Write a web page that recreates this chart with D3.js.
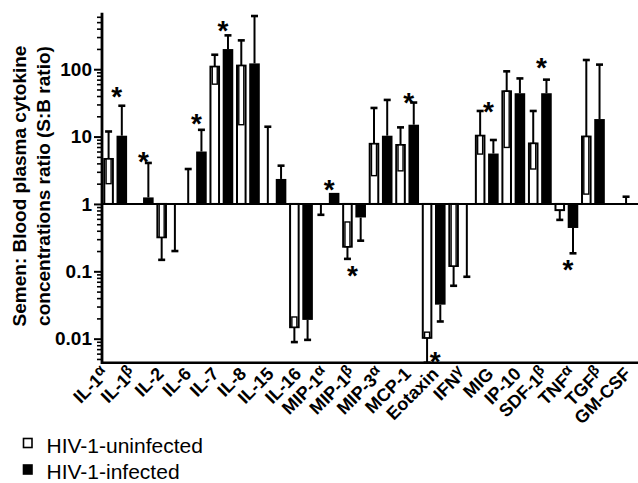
<!DOCTYPE html>
<html><head><meta charset="utf-8">
<script src="https://cdn.jsdelivr.net/npm/d3@7"></script>
<style>body{margin:0;background:#fff} svg{display:block}</style>
</head><body>
<svg id="chart" width="638" height="483"></svg>
<script>
// ---------- data ----------
const categories = ["IL-1α","IL-1β","IL-2","IL-6","IL-7","IL-8","IL-15","IL-16","MIP-1α","MIP-1β","MIP-3α","MCP-1","Eotaxin","IFNγ","MIG","IP-10","SDF-1β","TNFα","TGFβ","GM-CSF"];
const seriesNames = ["HIV-1-uninfected", "HIV-1-infected"];
// S:B ratio means (null = no bar)
const uninfectedMean  = [4.65, null, 0.32, 1, 109, 113, 1, 0.0148, 1, 0.232, 7.8, 7.5, 0.0103, 0.12, 10.3, 47, 7.9, 0.81, 10, null];
// error bar end pointing away from the baseline
const uninfectedErrOuter = [11.9, null, 0.148, 3.3, 164, 268, 14, 0.0089, 0.69, 0.153, 26.6, 13.7, 0.0044, 0.061, 24, 93, 24, 0.58, 137, null];
// error bar end drawn inside the (open) bar
const uninfectedErrInner = [2.0, null, 1, null, 60, 15, null, 0.021, null, 0.54, 2.63, 3.1, 0.0125, 1, 5.5, 6.9, 3.3, null, 1.4, null];
const infectedMean    = [10.3, 1.25, 1, 6.0, 199, 122, 2.35, 0.019, 1.46, 0.63, 10.3, 15, 0.032, 1, 5.6, 44, 44, 0.44, 18.2, 1];
const infectedErrOuter = [28.7, 4.06, 0.2, 12.6, 318, 616, 3.7, 0.0096, null, 0.285, 35, 32, 0.018, 0.083, 8.9, 73, 70, 0.185, 117, 1.28];
const yTickValues = [0.01, 0.1, 1, 10, 100];
const yTickLabels = ["0.01", "0.1", "1", "10", "100"];
const yDomain = [0.0044, 690];
// significance marks: category, series, height (ratio units)
const sigCategory = ["IL-1α","IL-1β","IL-6","IL-7","MIP-1α","MIP-1β","MCP-1","Eotaxin","MIG","SDF-1β","TNFα"];
const sigSeries   = ["infected","infected","infected","infected","infected","uninfected","infected","infected","infected","infected","infected"];
const sigValue    = [49, 5.3, 18.9, 468, 2.03, 0.105, 40, 0.0057, 29.4, 129, 0.132];
const yTitleLines = ["Semen: Blood plasma cytokine", "concentrations ratio (S:B ratio)"];

// ---------- layout ----------
const FONT = "'Liberation Sans', Arial, Helvetica, sans-serif";
const svg = d3.select("#chart").style("font-family", FONT);
const plot = {left: 102, top: 12.7, bottom: 362.7, right: 638};
const groupStart = 103.3, groupStep = 26.54;

const y = d3.scaleLog().domain(yDomain).range([plot.bottom, plot.top]);
const x = d3.scaleBand().domain(categories)
  .range([groupStart, groupStart + groupStep * categories.length]).padding(0);
const xSub = d3.scaleBand().domain(["uninfected", "infected"]).range([0, 23.8])
  .paddingInner(0.2).paddingOuter(0);
const xLabel = d3.scalePoint().domain(categories).range([110, 632]);

const bw = xSub.bandwidth();
const cxOf = (c, s) => x(c) + xSub(s) + bw / 2;

const rows = categories.map((c, i) => ({
  c,
  u: uninfectedMean[i], uo: uninfectedErrOuter[i], ui: uninfectedErrInner[i],
  inf: infectedMean[i], io: infectedErrOuter[i]
}));

const gBars = svg.append("g");
// open bars (uninfected)
rows.filter(d => d.u != null && d.u !== 1).forEach(d => {
  const y0 = y(1), y1 = y(d.u);
  gBars.append("rect")
    .attr("x", x(d.c) + xSub("uninfected") + 1)
    .attr("width", bw - 2)
    .attr("y", Math.min(y0, y1))
    .attr("height", Math.abs(y1 - y0))
    .attr("fill", "#fff").attr("stroke", "#000").attr("stroke-width", 2);
});
// filled bars (infected)
rows.filter(d => d.inf != null && d.inf !== 1).forEach(d => {
  const y0 = y(1), y1 = y(d.inf);
  gBars.append("rect")
    .attr("x", x(d.c) + xSub("infected"))
    .attr("width", bw)
    .attr("y", Math.min(y0, y1))
    .attr("height", Math.abs(y1 - y0))
    .attr("fill", "#000");
});

// inner error bars (inside open bars)
rows.filter(d => d.u != null && d.ui != null).forEach(d => {
  const cx = cxOf(d.c, "uninfected");
  const a = y(d.u), b = y(d.ui);
  gBars.append("rect")
    .attr("x", cx - 2.5).attr("width", 5)
    .attr("y", Math.min(a, b)).attr("height", Math.abs(a - b))
    .attr("fill", "#fff").attr("stroke", "#000").attr("stroke-width", 1.4);
});

// outer error bars
function errBar(cx, from, to) {
  const a = y(from), b = y(to);
  gBars.append("line").attr("x1", cx).attr("x2", cx).attr("y1", a).attr("y2", b)
    .attr("stroke", "#000").attr("stroke-width", 2);
  gBars.append("line").attr("x1", cx - 3.5).attr("x2", cx + 3.5).attr("y1", b).attr("y2", b)
    .attr("stroke", "#000").attr("stroke-width", 2.6);
}
rows.forEach(d => {
  if (d.u != null && d.uo != null) errBar(cxOf(d.c, "uninfected"), d.u, d.uo);
  if (d.inf != null && d.io != null) errBar(cxOf(d.c, "infected"), d.inf, d.io);
});

// baseline at ratio 1
svg.append("line").attr("x1", plot.left).attr("x2", plot.right)
  .attr("y1", y(1)).attr("y2", y(1)).attr("stroke", "#000").attr("stroke-width", 2);

// x axis line
svg.append("line").attr("x1", plot.left - 1).attr("x2", plot.right)
  .attr("y1", plot.bottom).attr("y2", plot.bottom).attr("stroke", "#000").attr("stroke-width", 2.6);

// y axis
const minorTicks = [];
for (let e = -3; e <= 3; e++) for (let k = 2; k <= 9; k++) {
  const v = k * Math.pow(10, e);
  if (v >= yDomain[0] && v <= yDomain[1]) minorTicks.push(v);
}
const yAxisMinor = d3.axisLeft(y).tickValues(minorTicks).tickSize(5).tickFormat("");
const gMinor = svg.append("g").attr("transform", `translate(${plot.left},0)`).call(yAxisMinor);
gMinor.select(".domain").remove();
gMinor.selectAll("line").attr("stroke", "#000").attr("stroke-width", 1.6);

const yAxis = d3.axisLeft(y).tickValues(yTickValues).tickSize(8).tickPadding(2)
  .tickFormat((d, i) => yTickLabels[i]);
const gY = svg.append("g").attr("transform", `translate(${plot.left},0)`).call(yAxis);
gY.select(".domain").remove();
gY.selectAll("line").attr("stroke", "#000").attr("stroke-width", 2);
gY.selectAll("text").attr("font-family", FONT).attr("font-weight", "bold")
  .attr("font-size", 19).attr("fill", "#000");
svg.append("line").attr("x1", plot.left).attr("x2", plot.left)
  .attr("y1", plot.top).attr("y2", plot.bottom + 1.3)
  .attr("stroke", "#000").attr("stroke-width", 2.8);

// y title
const yTitleX = [26.3, 50];
yTitleLines.forEach((t, i) => {
  svg.append("text")
    .attr("transform", `translate(${yTitleX[i]},186) rotate(-90)`)
    .attr("text-anchor", "middle")
    .attr("font-weight", "bold").attr("font-size", 19).text(t);
});

// x category labels (rotated, greek letters raised)
categories.forEach(c => {
  const last = c.slice(-1);
  const greek = "αβγ".includes(last);
  const t = svg.append("text")
    .attr("transform", `translate(${xLabel(c)},375) rotate(-45)`)
    .attr("text-anchor", "end")
    .attr("font-weight", "bold").attr("font-size", 18);
  if (greek) {
    t.append("tspan").text(c.slice(0, -1));
    t.append("tspan").attr("dy", "-0.4em").attr("font-size", 15).text(last);
  } else t.text(c);
});

// significance asterisks
sigCategory.forEach((c, i) => {
  const s = sigSeries[i];
  const cx = cxOf(c, s) + (s === "infected" ? -5 : 5);
  svg.append("text").attr("x", cx).attr("y", y(sigValue[i]) + 15.5)
    .attr("text-anchor", "middle").attr("font-weight", "bold").attr("font-size", 28).text("*");
});

// legend
const legY = [438.5, 465];
seriesNames.forEach((n, i) => {
  svg.append("rect").attr("x", 23.5).attr("y", legY[i]).attr("width", 8.5).attr("height", 9)
    .attr("fill", i === 0 ? "#fff" : "#000").attr("stroke", "#000").attr("stroke-width", 1.6);
  svg.append("text").attr("x", 46.5).attr("y", legY[i] + 14)
    .attr("font-size", 21).text(n);
});
</script>
</body></html>
